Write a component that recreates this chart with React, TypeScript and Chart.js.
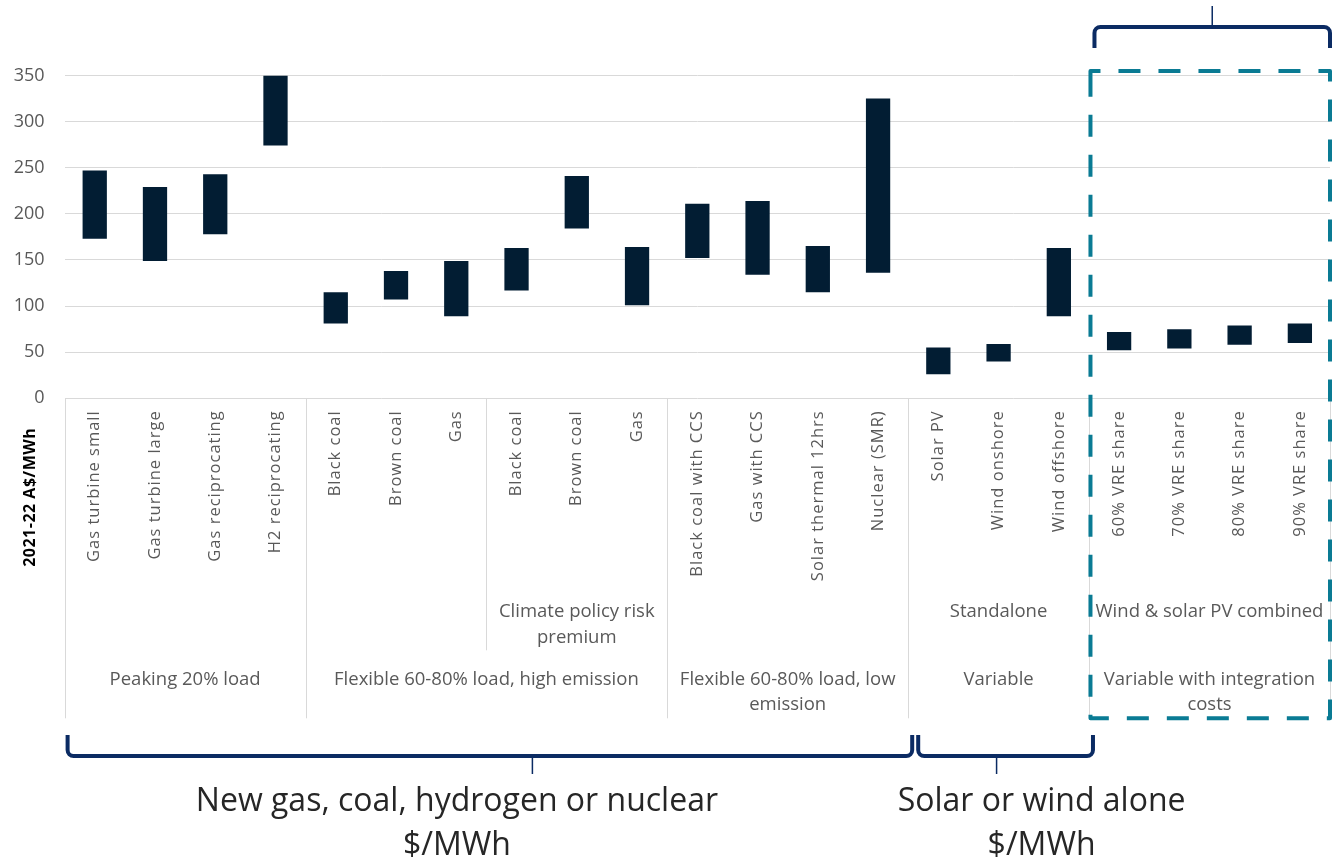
import React, { useEffect, useRef } from "react";
import { Chart, registerables } from "chart.js";

Chart.register(...registerables);

// ---------- data ----------
const categories = [
  "Gas turbine small",
  "Gas turbine large",
  "Gas reciprocating",
  "H2 reciprocating",
  "Black coal",
  "Brown coal",
  "Gas",
  "Black coal",
  "Brown coal",
  "Gas",
  "Black coal with CCS",
  "Gas with CCS",
  "Solar thermal 12hrs",
  "Nuclear (SMR)",
  "Solar PV",
  "Wind onshore",
  "Wind offshore",
  "60% VRE share",
  "70% VRE share",
  "80% VRE share",
  "90% VRE share",
];
const lowValues = [173, 149, 178, 274, 81, 107, 89, 117, 184, 101, 152, 134, 115, 136, 26, 40, 89, 52, 54, 58, 60];
const highValues = [247, 229, 243, 350, 115, 138, 149, 163, 241, 164, 211, 214, 165, 325, 55, 59, 163, 72, 75, 79, 81];
const yTicks = [0, 50, 100, 150, 200, 250, 300, 350];

const subGroupLabels: string[][] = [
  [],
  [],
  ["Climate policy risk", "premium"],
  [],
  ["Standalone"],
  ["Wind & solar PV combined"],
];
const subGroupSizes = [4, 3, 3, 4, 3, 4];

const groupLabels: string[][] = [
  ["Peaking 20% load"],
  ["Flexible 60-80% load, high emission"],
  ["Flexible 60-80% load, low", "emission"],
  ["Variable"],
  ["Variable with integration", "costs"],
];
const groupSizes = [4, 6, 4, 3, 4];

const yTitle = "2021-22 A$/MWh";
const bracketLabels: string[][] = [
  ["New gas, coal, hydrogen or nuclear", "$/MWh"],
  ["Solar or wind alone", "$/MWh"],
];

// ---------- styles ----------
const BAR = "#021D33";
const GRID = "#D9D9D9";
const LABEL = "#595959";
const NAVY = "#0B2B63";
const TEAL = "#0A7B94";
const FONT = "'Open Sans', 'Noto Sans', sans-serif";

function bracketDown(ctx: CanvasRenderingContext2D, x1: number, x2: number, yTop: number, yBar: number, r: number) {
  ctx.beginPath();
  ctx.moveTo(x1, yTop);
  ctx.lineTo(x1, yBar - r);
  ctx.arcTo(x1, yBar, x1 + r, yBar, r);
  ctx.lineTo(x2 - r, yBar);
  ctx.arcTo(x2, yBar, x2, yBar - r, r);
  ctx.lineTo(x2, yTop);
  ctx.stroke();
}
function bracketUp(ctx: CanvasRenderingContext2D, x1: number, x2: number, yBottom: number, yBar: number, r: number) {
  ctx.beginPath();
  ctx.moveTo(x1, yBottom);
  ctx.lineTo(x1, yBar + r);
  ctx.arcTo(x1, yBar, x1 + r, yBar, r);
  ctx.lineTo(x2 - r, yBar);
  ctx.arcTo(x2, yBar, x2, yBar + r, r);
  ctx.lineTo(x2, yBottom);
  ctx.stroke();
}

const annotPlugin = {
  id: "annot",
  afterDraw(chart: any) {
    const { ctx, chartArea, scales } = chart;
    const xs = scales.x;
    const ys = scales.y;
    const n = categories.length;
    const step = (chartArea.right - chartArea.left) / n;
    const edge = (i: number) => xs.getPixelForValue(i) - step / 2;
    const y0 = ys.getPixelForValue(0);

    ctx.save();
    // separators
    ctx.strokeStyle = GRID;
    ctx.lineWidth = 1;
    const groupEdges = new Set<number>();
    let acc = 0;
    groupEdges.add(0);
    groupSizes.forEach((s) => {
      acc += s;
      groupEdges.add(acc);
    });
    groupEdges.forEach((k) => {
      const px = Math.round(edge(k)) + 0.5;
      ctx.beginPath();
      ctx.moveTo(px, y0);
      ctx.lineTo(px, y0 + 320);
      ctx.stroke();
    });
    acc = 0;
    subGroupSizes.forEach((s) => {
      acc += s;
      if (!groupEdges.has(acc)) {
        const px = Math.round(edge(acc)) + 0.5;
        ctx.beginPath();
        ctx.moveTo(px, y0);
        ctx.lineTo(px, y0 + 252);
        ctx.stroke();
      }
    });

    // category labels (rotated)
    ctx.fillStyle = LABEL;
    ctx.font = `16.5px ${FONT}`;
    (ctx as any).letterSpacing = "1px";
    ctx.textAlign = "right";
    ctx.textBaseline = "middle";
    categories.forEach((c, i) => {
      ctx.save();
      ctx.translate(xs.getPixelForValue(i), y0 + 12);
      ctx.rotate(-Math.PI / 2);
      ctx.fillText(c, 0, 0);
      ctx.restore();
    });
    (ctx as any).letterSpacing = "0px";

    // sub-group labels
    ctx.textAlign = "center";
    ctx.font = `18.5px ${FONT}`;
    acc = 0;
    subGroupSizes.forEach((s, gi) => {
      const cx = (edge(acc) + edge(acc + s)) / 2;
      subGroupLabels[gi].forEach((line, li) => {
        ctx.fillText(line, cx, y0 + 213 + li * 26);
      });
      acc += s;
    });
    // group labels
    acc = 0;
    groupSizes.forEach((s, gi) => {
      const cx = (edge(acc) + edge(acc + s)) / 2;
      groupLabels[gi].forEach((line, li) => {
        ctx.fillText(line, cx, y0 + 281 + li * 25);
      });
      acc += s;
    });

    // y title
    ctx.save();
    ctx.fillStyle = "#000000";
    ctx.font = `bold 16px ${FONT}`;
    (ctx as any).letterSpacing = "0.5px";
    ctx.translate(30, y0 + 99);
    ctx.rotate(-Math.PI / 2);
    ctx.fillText(yTitle, 0, 0);
    (ctx as any).letterSpacing = "0px";
    ctx.restore();

    // dashed box around the combined group
    const boxL = edge(17) + 1.5;
    const boxR = chartArea.right;
    const boxT = chartArea.top - 4.5;
    const boxB = y0 + 320;
    ctx.strokeStyle = TEAL;
    ctx.lineWidth = 4;
    ctx.setLineDash([22, 18]);
    ctx.lineJoin = "round";
    ctx.beginPath();
    ctx.moveTo(boxL, boxT + 12);
    ctx.lineTo(boxL, boxT);
    ctx.lineTo(boxR, boxT);
    ctx.lineTo(boxR, boxB);
    ctx.lineTo(boxL, boxB);
    ctx.lineTo(boxL, boxT + 12);
    ctx.stroke();
    ctx.setLineDash([]);

    // brackets
    ctx.strokeStyle = NAVY;
    ctx.lineCap = "butt";
    ctx.lineWidth = 4;
    // top bracket
    const tL = edge(17) + 5.5;
    const tR = chartArea.right;
    bracketUp(ctx, tL, tR, 48, 27, 6);
    ctx.lineWidth = 1.5;
    ctx.beginPath();
    ctx.moveTo((tL + tR) / 2, 27);
    ctx.lineTo((tL + tR) / 2, 6);
    ctx.stroke();

    // bottom brackets
    const b1L = edge(0) + 3;
    const b1R = edge(14) + 4;
    const b2L = edge(14) + 10;
    const b2R = edge(17) + 4;
    ctx.lineWidth = 4;
    bracketDown(ctx, b1L, b1R, 735, 756, 6);
    bracketDown(ctx, b2L, b2R, 735, 756, 6);
    ctx.lineWidth = 1.5;
    const stem1 = edge(7) + 46;
    const stem2 = xs.getPixelForValue(15) - 2;
    ctx.beginPath();
    ctx.moveTo(stem1, 758);
    ctx.lineTo(stem1, 774);
    ctx.moveTo(stem2, 758);
    ctx.lineTo(stem2, 774);
    ctx.stroke();

    // bracket captions
    ctx.fillStyle = "#262626";
    ctx.font = `32px ${FONT}`;
    ctx.textAlign = "center";
    ctx.textBaseline = "middle";
    const c1 = (b1L + b1R) / 2 - 33;
    const c2 = (b2L + b2R) / 2 + 36;
    bracketLabels[0].forEach((t, i) => ctx.fillText(t, c1, 802 + i * 44));
    bracketLabels[1].forEach((t, i) => ctx.fillText(t, c2, 802 + i * 44));

    ctx.restore();
  },
};

export default function App() {
  const ref = useRef<HTMLCanvasElement | null>(null);
  useEffect(() => {
    document.body.style.margin = "0";
    if (!ref.current) return;
    const chart = new Chart(ref.current, {
      type: "bar",
      data: {
        labels: categories,
        datasets: [
          {
            data: categories.map((_, i) => [lowValues[i], highValues[i]]) as any,
            backgroundColor: BAR,
            borderWidth: 0,
            barPercentage: 0.403,
            categoryPercentage: 1,
          },
        ],
      },
      options: {
        animation: false,
        responsive: false,
        maintainAspectRatio: false,
        layout: { padding: { left: 0, right: 9, top: 75.5, bottom: 463.7 } },
        plugins: {
          legend: { display: false },
          tooltip: { enabled: false },
          title: { display: false },
        },
        scales: {
          x: { display: false },
          y: {
            min: 0,
            max: 350,
            afterBuildTicks: (s: any) => {
              s.ticks = yTicks.map((v) => ({ value: v }));
            },
            afterFit: (s: any) => {
              s.width = 64.6;
            },
            ticks: {
              padding: 20,
              color: LABEL,
              font: { family: FONT, size: 18 },
            },
            grid: { color: GRID, lineWidth: 1, drawTicks: false },
            border: { display: false },
          },
        },
      },
      plugins: [annotPlugin],
    });
    return () => chart.destroy();
  }, []);
  return (
    <div style={{ position: "absolute", left: 0, top: 0, width: 1339, height: 862, background: "#fff" }}>
      <canvas ref={ref} width={1339} height={862} style={{ width: 1339, height: 862, display: "block" }} />
    </div>
  );
}
